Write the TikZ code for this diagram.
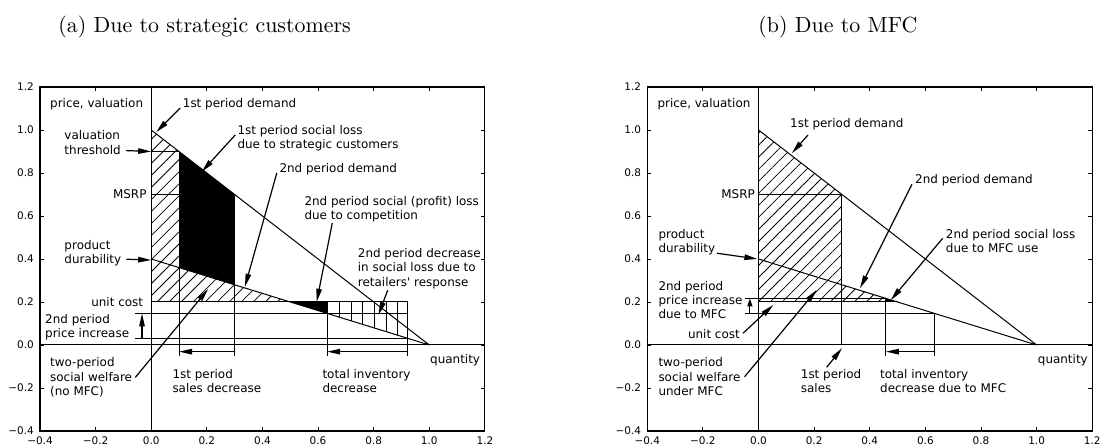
\documentclass[tikz,border=0pt]{standalone}
\usepackage{fontspec}
\newfontfamily\dvsans{DejaVu Sans}
\usetikzlibrary{patterns.meta,arrows.meta}
\newcommand\annfont{\dvsans\fontsize{12}{14.4}\selectfont}
\newcommand\tickfont{\dvsans\fontsize{10.5}{12}\selectfont}
\newcommand\titlefont{\fontsize{10}{12}\selectfont}

\tikzset{
  dataln/.style={line width=1bp},
  spine/.style={line width=1.1bp},
  tickln/.style={line width=0.9bp},
  ann/.style={font=\annfont, inner sep=0pt, align=left},
  ticklab/.style={font=\tickfont, inner sep=0pt},
  titlelab/.style={font=\titlefont, inner sep=0pt, anchor=base west, scale=2.2, transform shape},
  pointer/.style={line width=1.2bp, -{Triangle[length=13bp,width=5.5bp]}},
  shortpointer/.style={line width=1.2bp, -{Triangle[length=8bp,width=5bp]}},
  diaghatch/.style={pattern={Lines[angle=45,distance=8.5bp,line width=0.8bp]}},
  verthatch/.style={pattern={Lines[angle=90,distance=11.7bp,line width=0.8bp]}},
  panel/.style={x=278.1bp, y=215bp},
}

\begin{document}
\begin{tikzpicture}[x=1bp,y=1bp]
\useasboundingbox (0,0) rectangle (1102,447);

% ---------------- titles ----------------
\node[titlelab] (title-a) at (58,414) {(a) Due to strategic customers};
\node[titlelab] (title-b) at (758,414) {(b) Due to MFC};

% ---------------- panel (a) ----------------
\begin{scope}[shift={(151.2,102)}, panel]
  % two-period social welfare
  \fill[diaghatch] (0,1) -- (0.1,0.9) -- (0.1,0.36) -- (0.5,0.2) -- (0,0.2) -- cycle;
  % first period social loss
  \fill (0.1,0.9) -- (0.3,0.7) -- (0.3,0.28) -- (0.1,0.36) -- cycle;
  % second period loss due to competition
  \fill (0.5,0.2) -- (0.633,0.2) -- (0.633,0.1468) -- cycle;
  % decrease due to retailers' response
  \fill[verthatch] (0.633,0.2) -- (0.923,0.2) -- (0.923,0.0308) -- (0.633,0.1468) -- cycle;

  % frame, ticks, axes
  \draw[spine] (-0.4,-0.4) rectangle (1.2,1.2);
  \foreach \v in {-0.4,-0.2,0,0.2,0.4,0.6,0.8,1.0,1.2} {
    \draw[tickln] (\v,-0.4) -- ++(0,4bp) (\v,1.2) -- ++(0,-4bp)
                  (-0.4,\v) -- ++(4bp,0) (1.2,\v) -- ++(-4bp,0);
  }
  \foreach \v/\t [count=\i] in {-0.4/−0.4,-0.2/−0.2,0/0.0,0.2/0.2,0.4/0.4,0.6/0.6,0.8/0.8,1.0/1.0,1.2/1.2} {
    \node[ticklab, anchor=base] (a-xt-\i) at ([yshift=-14bp]\v,-0.4) {\t};
    \node[ticklab, anchor=base east] (a-yt-\i) at ([xshift=-6bp,yshift=-3.8bp]-0.4,\v) {\t};
  }
  \draw[dataln] (0,-0.4) -- (0,1.2) (-0.4,0) -- (1.2,0);

  % demand curves
  \draw[dataln] (0,1) -- (1,0) (0,0.4) -- (1,0);
  % price levels
  \draw[dataln] (0,0.9) -- (0.1,0.9) (0,0.7) -- (0.3,0.7) (0,0.2) -- (0.923,0.2)
                (-0.058,0.1468) -- (0.923,0.1468) (-0.058,0.0308) -- (0.923,0.0308);
  % quantity markers
  \draw[dataln] (0.1,0.9) -- (0.1,-0.052) (0.3,0.7) -- (0.3,-0.052)
                (0.633,0.2) -- (0.633,-0.052) (0.923,0.2) -- (0.923,-0.052);

  % pointer targets
  \coordinate (a-p-d1) at (0.018,0.99);
  \coordinate (a-p-loss1) at (0.182,0.806);
  \coordinate (a-p-d2) at (0.337,0.271);
  \coordinate (a-p-comp) at (0.595,0.201);
  \coordinate (a-p-resp) at (0.817,0.14);
  \coordinate (a-p-thr) at (0,0.9);
  \coordinate (a-p-dur) at (0,0.395);
  \coordinate (a-p-welf) at (0.205,0.26);
  \coordinate (a-s0) at (0.3,-0.031);
  \coordinate (a-s1) at (0.1,-0.031);
  \coordinate (a-i0) at (0.923,-0.031);
  \coordinate (a-i1) at (0.633,-0.031);
  \coordinate (a-pi0) at (-0.033,0.0308);
  \coordinate (a-pi1) at (-0.033,0.1468);
\end{scope}

% labels of panel (a)
\node[ann, anchor=base west] (a-price) at (50,339) {price, valuation};
\node[ann, anchor=base west] (a-d1) at (182.7,339) {1st period demand};
\node[ann, anchor=north west] (a-loss1) at (237.3,322.1) {1st period social loss\\due to strategic customers};
\node[ann, anchor=base west] (a-d2) at (279.3,274) {2nd period demand};
\node[ann, anchor=north west] (a-comp) at (304.3,251.1) {2nd period social (profit) loss\\due to competition};
\node[ann, anchor=north west] (a-resp) at (357.7,198.8) {2nd period decrease\\in social loss due to\\retailers' response};
\node[ann, anchor=north west] (a-thr) at (64.3,316.4) {valuation\\threshold};
\node[ann, anchor=base east] (a-msrp) at (146.7,248) {MSRP};
\node[ann, anchor=north west] (a-dur) at (64.3,207.1) {product\\durability};
\node[ann, anchor=base east] (a-cost) at (143.3,140.7) {unit cost};
\node[ann, anchor=north west] (a-pinc) at (45,133.1) {2nd period\\price increase};
\node[ann, anchor=north west] (a-welf) at (50,89.4) {two-period\\social welfare\\(no MFC)};
\node[ann, anchor=north west] (a-sales) at (172.3,78.1) {1st period\\sales decrease};
\node[ann, anchor=north west] (a-inv) at (322.3,78.1) {total inventory\\decrease};
\node[ann, anchor=base west] (a-qty) at (430,83.7) {quantity};

\draw[pointer] ([xshift=-2.5bp]a-d1.base west) -- (a-p-d1);
\draw[pointer] ([shift={(-2bp,-10bp)}]a-loss1.north west) -- (a-p-loss1);
\draw[pointer] ([xshift=-2.5bp]a-d2.base west) -- (a-p-d2);
\draw[pointer] ([shift={(28bp,-27bp)}]a-comp.north west) -- (a-p-comp);
\draw[pointer] ([shift={(30bp,-42bp)}]a-resp.north west) -- (a-p-resp);
\draw[pointer] ([shift={(5bp,4bp)}]a-thr.south east) -- (a-p-thr);
\draw[pointer] ([shift={(5bp,7bp)}]a-dur.south east) -- (a-p-dur);
\draw[pointer] ([xshift=3bp]a-welf.east) -- (a-p-welf);
\draw[pointer] (a-s0) -- (a-s1);
\draw[pointer] (a-i0) -- (a-i1);
\draw[pointer] (a-pi0) -- (a-pi1);

% ---------------- panel (b) ----------------
\begin{scope}[shift={(758.5,102)}, panel]
  % two-period social welfare under MFC
  \fill[diaghatch] (0,1) -- (0.3,0.7) -- (0.3,0.28) -- (0.458,0.2168) -- (0.458,0.2) -- (0,0.2) -- cycle;
  % second period loss due to MFC use
  \fill (0.458,0.2168) -- (0.5,0.2) -- (0.458,0.2) -- cycle;

  \draw[spine] (-0.4,-0.4) rectangle (1.2,1.2);
  \foreach \v in {-0.4,-0.2,0,0.2,0.4,0.6,0.8,1.0,1.2} {
    \draw[tickln] (\v,-0.4) -- ++(0,4bp) (\v,1.2) -- ++(0,-4bp)
                  (-0.4,\v) -- ++(4bp,0) (1.2,\v) -- ++(-4bp,0);
  }
  \foreach \v/\t [count=\i] in {-0.4/−0.4,-0.2/−0.2,0/0.0,0.2/0.2,0.4/0.4,0.6/0.6,0.8/0.8,1.0/1.0,1.2/1.2} {
    \node[ticklab, anchor=base] (b-xt-\i) at ([yshift=-14bp]\v,-0.4) {\t};
    \node[ticklab, anchor=base east] (b-yt-\i) at ([xshift=-6bp,yshift=-3.8bp]-0.4,\v) {\t};
  }
  \draw[dataln] (0,-0.4) -- (0,1.2) (-0.4,0) -- (1.2,0);

  \draw[dataln] (0,1) -- (1,0) (0,0.4) -- (1,0);
  \draw[dataln] (0,0.7) -- (0.3,0.7) (0.3,0.7) -- (0.3,0)
                (-0.048,0.2168) -- (0.458,0.2168) (0,0.2) -- (0.5,0.2)
                (-0.048,0.1464) -- (0.634,0.1464);
  \draw[dataln] (0.458,0.2168) -- (0.458,-0.052) (0.634,0.1464) -- (0.634,-0.052);

  \coordinate (b-p-d1) at (0.12,0.892);
  \coordinate (b-p-d2) at (0.365,0.264);
  \coordinate (b-p-loss) at (0.476,0.209);
  \coordinate (b-p-dur) at (-0.004,0.4);
  \coordinate (b-p-cost) at (0.053,0.186);
  \coordinate (b-p-welf) at (0.209,0.256);
  \coordinate (b-p-sales) at (0.3,-0.015);
  \coordinate (b-i0) at (0.634,-0.031);
  \coordinate (b-i1) at (0.458,-0.031);
  \coordinate (b-pi0) at (-0.031,0.1464);
  \coordinate (b-pi1) at (-0.031,0.2168);
\end{scope}

% labels of panel (b)
\node[ann, anchor=base west] (b-price) at (657.3,339) {price, valuation};
\node[ann, anchor=base west] (b-d1) at (790,319) {1st period demand};
\node[ann, anchor=base east] (b-msrp) at (755,248) {MSRP};
\node[ann, anchor=base west] (b-d2) at (915,263.7) {2nd period demand};
\node[ann, anchor=north west] (b-dur) at (658.3,218.1) {product\\durability};
\node[ann, anchor=north west] (b-loss) at (945.7,218.1) {2nd period social loss\\due to MFC use};
\node[ann, anchor=north west] (b-pinc) at (658.3,166.1) {2nd period\\price increase\\due to MFC};
\node[ann, anchor=base east] (b-cost) at (740,108) {unit cost};
\node[ann, anchor=north west] (b-welf) at (658.3,89.4) {two-period\\social welfare\\under MFC};
\node[ann, anchor=north west] (b-sales) at (800.7,78.1) {1st period\\sales};
\node[ann, anchor=north west] (b-inv) at (880,78.1) {total inventory\\decrease due to MFC};
\node[ann, anchor=base west] (b-qty) at (1037.7,83.7) {quantity};

\draw[pointer] ([shift={(18bp,-7bp)}]b-d1.base west) -- (b-p-d1);
\draw[pointer] ([shift={(-3bp,-1bp)}]b-d2.base west) -- (b-p-d2);
\draw[pointer] ([shift={(-3bp,-9.4bp)}]b-loss.north west) -- (b-p-loss);
\draw[pointer] ([shift={(1.5bp,2bp)}]b-dur.south east) -- (b-p-dur);
\draw[pointer] ([shift={(3bp,5.7bp)}]b-cost.base east) -- (b-p-cost);
\draw[pointer] ([xshift=4bp]b-welf.east) -- (b-p-welf);
\draw[pointer] ([shift={(26bp,1.6bp)}]b-sales.north west) -- (b-p-sales);
\draw[pointer] (b-i0) -- (b-i1);
\draw[shortpointer] (b-pi0) -- (b-pi1);
\end{tikzpicture}
\end{document}
